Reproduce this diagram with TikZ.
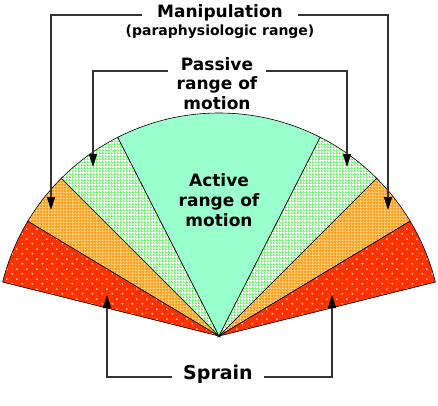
\documentclass[tikz,border=0pt]{standalone}
\usepackage{fontspec}
\setmainfont{DejaVu Sans}
\usetikzlibrary{arrows.meta,patterns}

\definecolor{activegreen}{HTML}{99FFCC}
\definecolor{passivegreen}{HTML}{66FF66}
\definecolor{manipfill}{HTML}{FFA020}
\definecolor{maniplines}{HTML}{FFD280}
\definecolor{sprainred}{HTML}{FF3300}

\pgfdeclarepatternformonly{finegrid}{\pgfqpoint{0pt}{0pt}}{\pgfqpoint{3pt}{3pt}}{\pgfqpoint{3pt}{3pt}}{%
  \pgfpathrectangle{\pgfqpoint{0pt}{0pt}}{\pgfqpoint{3pt}{1pt}}%
  \pgfpathrectangle{\pgfqpoint{0pt}{0pt}}{\pgfqpoint{1pt}{3pt}}%
  \pgfusepath{fill}}
\pgfdeclarepatternformonly{sparsedots}{\pgfqpoint{0pt}{0pt}}{\pgfqpoint{10pt}{10pt}}{\pgfqpoint{10pt}{10pt}}{%
  \pgfpathcircle{\pgfqpoint{2.5pt}{2.5pt}}{0.9pt}%
  \pgfpathcircle{\pgfqpoint{7.5pt}{7.5pt}}{0.9pt}%
  \pgfusepath{fill}}

\begin{document}
\begin{tikzpicture}[x=1pt,y=1pt,
    lbl/.style={font=\fontsize{17}{20}\selectfont\bfseries, inner xsep=13pt, inner ysep=0pt},
    conn/.style={line width=1.3pt, draw=black!80, -{Triangle[length=13pt,width=8pt,color=black]}},
    rim/.style={draw=black, line width=0.6pt},
    activesec/.style={rim, fill=activegreen},
    passivesec/.style={rim, preaction={fill=white}, pattern=finegrid, pattern color=passivegreen},
    manipsec/.style={rim, preaction={fill=manipfill}, pattern=finegrid, pattern color=maniplines},
    sprainsec/.style={rim, preaction={fill=sprainred}, pattern=sparsedots, pattern color=white}]
	\useasboundingbox (0,0) rectangle (438,405);

	% fan of ranges
	\coordinate (O) at (219,69);
	\foreach \a/\b/\s in {166/149/sprainsec, 149/135/manipsec, 135/117/passivesec, 117/63/activesec,
	                      63/45/passivesec, 45/31/manipsec, 31/14/sprainsec}
		\path[\s] (O) -- ++(\a:223) arc[start angle=\a, end angle=\b, radius=223] -- cycle;

	\node[lbl, align=center] (active) at (219,205) {Active\\range of\\motion};

	% labels
	\node[lbl, anchor=mid, inner xsep=15pt] (manip) at (220,390) {Manipulation};
	\node[font=\fontsize{14}{16}\selectfont\bfseries] (paraphys) at (220,373) {(paraphysiologic range)};
	\node[lbl, anchor=base] (passive) at (217,334) {Passive};
	\node[lbl, align=center] (passivesub) at (217,312) {range of\\motion};
	\node[lbl, anchor=mid, font=\fontsize{19}{22}\selectfont\bfseries, inner xsep=11pt] (sprain) at (218,28) {Sprain};

	% arrow tips
	\coordinate (mltip) at (51,195);
	\coordinate (mrtip) at (388,195);
	\coordinate (pltip) at (93,238);
	\coordinate (prtip) at (347,238);
	\coordinate (sltip) at (107,110);
	\coordinate (srtip) at (332,110);

	\draw[conn] (manip.mid west) -| (mltip);
	\draw[conn] (manip.mid east) -| (mrtip);
	\draw[conn] (passive.base west) -| (pltip);
	\draw[conn] (passive.base east) -| (prtip);
	\draw[conn] (sprain.mid west) -| (sltip);
	\draw[conn] (sprain.mid east) -| (srtip);
\end{tikzpicture}
\end{document}
